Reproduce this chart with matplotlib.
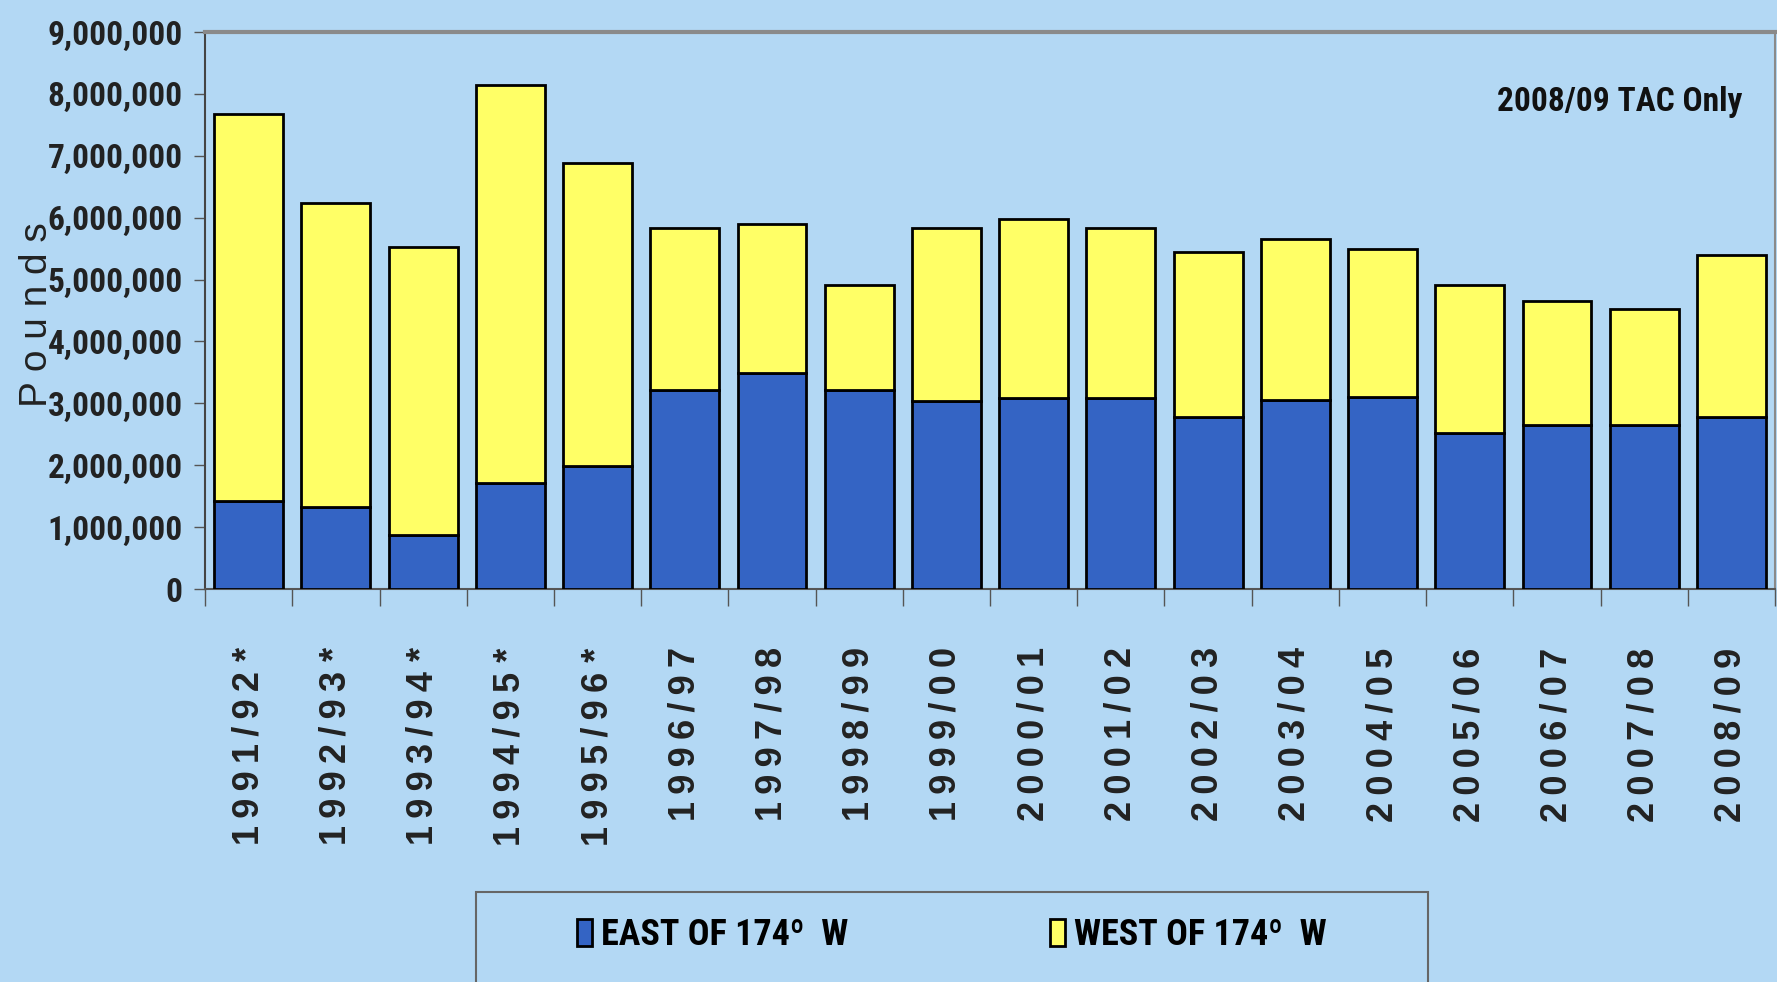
import numpy as np
import matplotlib.pyplot as plt
from matplotlib.patches import Rectangle

# Datos (libras)
temporadas = ['1991/92*', '1992/93*', '1993/94*', '1994/95*', '1995/96*',
              '1996/97', '1997/98', '1998/99', '1999/00', '2000/01',
              '2001/02', '2002/03', '2003/04', '2004/05', '2005/06',
              '2006/07', '2007/08', '2008/09']
este = [1430000, 1330000, 880000, 1720000, 1990000,
        3220000, 3490000, 3220000, 3030000, 3090000,
        3090000, 2780000, 3050000, 3110000, 2520000,
        2650000, 2650000, 2780000]
total = [7680000, 6230000, 5520000, 8140000, 6890000,
         5830000, 5900000, 4920000, 5830000, 5980000,
         5830000, 5450000, 5650000, 5500000, 4920000,
         4660000, 4530000, 5390000]
oeste = [t - e for t, e in zip(total, este)]

fondo = '#B3D8F4'
azul = '#3464C4'
amarillo = '#FFFF66'
angosta = ['Liberation Sans Narrow', 'Roboto Condensed', 'Liberation Sans', 'DejaVu Sans']
arial = ['Liberation Sans', 'DejaVu Sans']

fig = plt.figure(figsize=(17.77, 9.82), dpi=100, facecolor=fondo)
ax = fig.add_axes([0.1154, 0.4002, 0.8835, 0.5672])
ax.set_facecolor(fondo)

x = np.arange(len(temporadas))
ax.bar(x, este, width=0.79, color=azul, edgecolor='black', linewidth=2,
       label='EAST OF 174\u00ba  W', zorder=3)
ax.bar(x, oeste, width=0.79, bottom=este, color=amarillo, edgecolor='black',
       linewidth=2, label='WEST OF 174\u00ba  W', zorder=3)

ax.set_xlim(-0.5, len(temporadas) - 0.5)
ax.set_ylim(0, 9000000)
ax.set_yticks(np.arange(0, 9000001, 1000000))
ax.set_yticklabels(['{:,}'.format(v) for v in range(0, 9000001, 1000000)],
                   family=angosta, fontweight='bold', fontsize=24, color='#222222')

# etiquetas del eje x con letras espaciadas (espacio fino)
esp = '\u2009'
etiquetas = []
for t in temporadas:
    if t.endswith('*'):
        etiquetas.append(esp.join(t[:-1]) + ' *')
    else:
        etiquetas.append(esp.join(t))
ax.set_xticks(x)
ax.set_xticklabels(etiquetas, rotation=90, fontsize=26, fontweight='bold',
                   family=arial, va='top', ha='center', color='#222222')
ax.set_xticks(np.arange(-0.5, len(temporadas)), minor=True)
ax.tick_params(axis='x', which='major', length=0, pad=42)
ax.tick_params(axis='x', which='minor', length=12, width=1, color='#555555', direction='out')
ax.tick_params(axis='y', length=8, width=1, color='#555555', pad=8)

ax.spines['top'].set_color('#8a8a8a')
ax.spines['top'].set_linewidth(3)
ax.spines['right'].set_color('#8a8a8a')
ax.spines['right'].set_linewidth(1.5)
ax.spines['left'].set_color('#444444')
ax.spines['left'].set_linewidth(1.5)
ax.spines['bottom'].set_color('#555555')
ax.spines['bottom'].set_linewidth(1.5)

fig.text(0.021, 0.68, 'P o u n d s', rotation=90, ha='center', va='center',
         fontsize=28, family=arial, color='#222222')

ax.text(0.979, 0.875, '2008/09 TAC Only', transform=ax.transAxes, ha='right',
        va='center', family=angosta, fontweight='bold', fontsize=24, color='#111111')

# marco de la leyenda
fig.patches.append(Rectangle((476 / 1777, -0.02), 952 / 1777, 0.1117,
                             transform=fig.transFigure, facecolor='none',
                             edgecolor='#666666', linewidth=1.5))
fig.legend(loc='center', bbox_to_anchor=(0.5357, 1 - 935 / 982), ncol=2,
           frameon=False, columnspacing=5.6, handlelength=0.4, handleheight=0.8,
           handletextpad=0.25, prop={'family': angosta, 'weight': 'bold', 'size': 26})

fig.savefig('out.png', dpi=100, facecolor=fondo)
